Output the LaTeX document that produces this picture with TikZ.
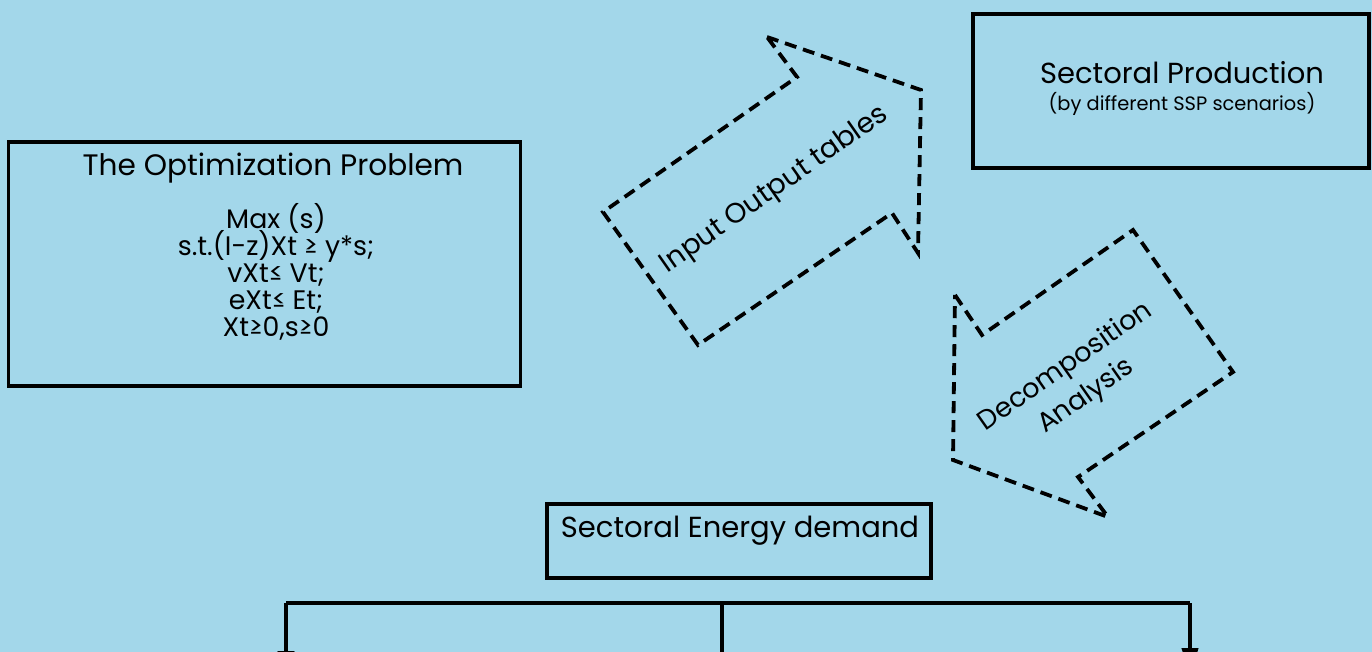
\documentclass[tikz,border=0pt]{standalone}
\usepackage{fontspec}
\setmainfont{Poppins}
\usetikzlibrary{arrows.meta}
\definecolor{bg}{HTML}{A3D7EA}
\newcommand\mytightlines{\lineskiplimit=-20pt\relax}
\tikzset{
  box/.style={draw=black, line width=1.6pt, rectangle, inner sep=0pt},
  dasharrow/.style={draw=black, line width=1.9pt, dash pattern=on 6pt off 3.5pt, line join=miter},
  tree/.style={draw=black, line width=2pt},
  treearrow/.style={tree, -{Triangle[width=8pt,length=14pt]}},
  fs/.style={font=\fontsize{#1}{#1}\selectfont}
}
\begin{document}
\begin{tikzpicture}[x=0.5pt, y=-0.5pt]
\fill[bg] (0,0) rectangle (1372,652);
\useasboundingbox (0,0) rectangle (1372,652);
\clip (0,0) rectangle (1372,652);

% Optimization box
\node[box, minimum width=256pt, minimum height=122pt] (opt) at (264.5,264) {};
\node[fs=14.8] (optT) at (273,168) {The Optimization Problem};
\node[align=center, font={\fontsize{13.4}{13.5}\selectfont\mytightlines}] (optF) at (276,272) {Max (s)\\s.t.(I-z)Xt ≥ y*s;\\vXt≤ Vt;\\eXt≤ Et;\\Xt≥0,s≥0};

% Sectoral production box
\node[box, minimum width=198pt, minimum height=77pt] (prod) at (1171,91) {};
\node[fs=14.5] (prodT) at (1182,73) {Sectoral Production};
\node[fs=9.7] (prodS) at (1182,104) {(by different SSP scenarios)};

% Energy demand box
\node[box, minimum width=192pt, minimum height=37pt] (energy) at (739,541) {};
\node[fs=14.5] (energyT) at (740,531) {Sectoral Energy demand};

% Input Output arrow
\coordinate (a1) at (767,37);
\coordinate (a2) at (921,90);
\coordinate (a3) at (918,253);
\coordinate (a4) at (892,213);
\coordinate (a5) at (698,345);
\coordinate (a6) at (603,212);
\coordinate (a7) at (797,77);
\draw[dasharrow] (a1) -- (a2) -- (a3) -- (a4) -- (a5) -- (a6) -- (a7) -- cycle;
\node[fs=14, rotate=35] (ioT) at (775,190) {Input Output tables};

% Decomposition arrow
\coordinate (b1) at (955,295);
\coordinate (b2) at (982,335);
\coordinate (b3) at (1133,230);
\coordinate (b4) at (1233,372);
\coordinate (b5) at (1078,477);
\coordinate (b6) at (1108,517);
\coordinate (b7) at (953,460);
\draw[dasharrow] (b1) -- (b2) -- (b3) -- (b4) -- (b5) -- (b6) -- (b7) -- cycle;
\node[rotate=35, align=center, font=\fontsize{13.5}{18}\selectfont] (decT) at (1076,382) {Decomposition\\Analysis};

% Tree
\coordinate (h1) at (286,603);
\coordinate (h2) at (722,603);
\coordinate (h3) at (1190,603);
\coordinate (d1) at (286,679);
\coordinate (d2) at (722,680);
\coordinate (d3) at (1190,676);
\draw[tree, line width=2.2pt] (h1) -- (h3);
\draw[treearrow] (h1) -- (d1);
\draw[treearrow] (h2) -- (d2);
\draw[treearrow] (h3) -- (d3);
\end{tikzpicture}
\end{document}
